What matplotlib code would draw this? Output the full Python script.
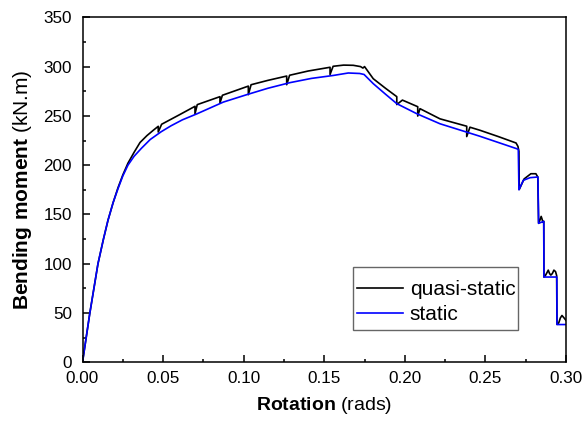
import matplotlib
matplotlib.use("Agg")
import matplotlib.pyplot as plt
from matplotlib.ticker import MultipleLocator
from matplotlib.patches import Rectangle

plt.rcParams['font.family'] = ['Liberation Sans', 'DejaVu Sans']
plt.rcParams['mathtext.fontset'] = 'custom'
plt.rcParams['mathtext.rm'] = 'Liberation Sans'
plt.rcParams['mathtext.bf'] = 'Liberation Sans:bold'

# static (blue)
rot_static = [0, 0.0045, 0.0096, 0.0130, 0.0158, 0.0190, 0.0220, 0.0250, 0.0282,
              0.0320, 0.0365, 0.0420, 0.0489, 0.0550, 0.0620,
              0.0709, 0.0874, 0.1019, 0.1150, 0.1287, 0.1420, 0.1556, 0.1649,
              0.1720, 0.1747, 0.1804, 0.1880, 0.1950, 0.2074, 0.2218, 0.2384, 0.2466,
              0.2580, 0.2694, 0.2704, 0.2708, 0.2735, 0.2777, 0.2826, 0.2830,
              0.2862, 0.2863, 0.2943, 0.2944, 0.3000]
mom_static = [0, 49.4, 100, 125, 144, 162, 176, 189, 200,
              209, 217, 226, 234, 240, 246,
              252, 264, 271.5, 278, 283.7, 288, 291, 293.5,
              293, 292, 282.7, 272, 262.4, 252.2, 242, 233.5, 229.3,
              223, 216.7, 216, 175, 184.6, 187.3, 188, 141,
              143, 86.5, 86.5, 38.3, 38.3]

# quasi-static (black)
rot_quasi = [0, 0.0045, 0.0096, 0.0130, 0.0158, 0.0190, 0.0220, 0.0250, 0.0282,
             0.0320, 0.0357, 0.0400, 0.0440,
             0.0470, 0.0470, 0.0491, 0.0600, 0.0698, 0.0698, 0.0712,
             0.0853, 0.0853, 0.0868, 0.1029, 0.1029, 0.1046, 0.1150,
             0.1267, 0.1267, 0.1285, 0.1400, 0.1536, 0.1536, 0.1555,
             0.1620, 0.1680, 0.1725, 0.1740, 0.1750, 0.1804, 0.1880,
             0.1950, 0.1950, 0.1985, 0.2080, 0.2080, 0.2094, 0.2218,
             0.2384, 0.2384, 0.2404, 0.2466, 0.2580, 0.2690, 0.2702,
             0.2708, 0.2710, 0.2740, 0.2782, 0.2813, 0.2825, 0.2830,
             0.2840, 0.2846, 0.2852, 0.2857, 0.2862, 0.2863, 0.2872,
             0.2882, 0.2890, 0.2898, 0.2906, 0.2915, 0.2925, 0.2935,
             0.2942, 0.2944, 0.2955, 0.2965, 0.2975, 0.2988, 0.3000]
mom_quasi = [0, 49.4, 100, 125, 144, 162, 177, 190, 202,
             213, 223, 230, 235.5,
             239.4, 233.6, 241.5, 251, 259.7, 252, 261.4,
             269.5, 263, 270.9, 280.2, 271.5, 281.6, 286,
             290.4, 281.6, 291.2, 295.5, 299.3, 292, 300.3,
             301.5, 301.3, 300, 298.5, 300, 287.7, 278,
             269.5, 261.5, 266, 259.3, 249.8, 257.3, 247,
             239.5, 229, 238.5, 235.4, 229, 222.5, 219,
             214, 175.4, 186, 191.3, 191.3, 188, 141,
             145, 148, 145, 142, 143, 86.5, 88,
             91, 93.5, 90, 88.5, 90, 93.5, 92,
             88, 38.5, 40, 45, 47.5, 45, 42.5]

xticks = [0.00, 0.05, 0.10, 0.15, 0.20, 0.25, 0.30]
yticks = [0, 50, 100, 150, 200, 250, 300, 350]

fig = plt.figure(figsize=(5.85, 4.21), dpi=100)
ax = fig.add_axes([82.5/585, 1-362.3/421, (566-82.5)/585, (362.3-17.3)/421])

ax.plot(rot_quasi, mom_quasi, color='black', lw=1.2, label='quasi-static')
ax.plot(rot_static, mom_static, color='#0000ff', lw=1.2, label='static')

ax.set_xlim(0, 0.30)
ax.set_ylim(0, 350)
ax.set_xticks(xticks)
ax.set_xticklabels([f"{v:.2f}" for v in xticks])
ax.set_yticks(yticks)
ax.set_yticklabels([str(v) for v in yticks])
ax.xaxis.set_minor_locator(MultipleLocator(0.025))
ax.yaxis.set_minor_locator(MultipleLocator(25))
ax.tick_params(which='both', direction='in', width=1.1, labelsize=12.3)
ax.tick_params(which='major', length=5)
ax.tick_params(which='minor', length=2.5)
ax.tick_params(axis='x', pad=6.5)
ax.tick_params(axis='y', pad=7.5)
for s in ax.spines.values():
    s.set_linewidth(1.1)

fig.text(23/585, 1-190/421, r'$\mathbf{Bending\ moment}$ (kN.m)', rotation=90,
         ha='center', va='center', fontsize=15)
fig.text(324/585, 1-405/421, r'$\mathbf{Rotation}$ (rads)',
         ha='center', va='center', fontsize=14)

# legend box drawn separately
ax.add_patch(Rectangle((0.5595, 0.0936), 0.9007-0.5595, 0.2762-0.0936,
                       transform=ax.transAxes, fill=True, facecolor='white',
                       edgecolor='#666666', lw=1.0, zorder=4))
leg = ax.legend(loc='center', bbox_to_anchor=(0.731, 0.174), fontsize=15,
                frameon=False, handlelength=2.25, handletextpad=0.3,
                borderpad=0.2, labelspacing=0.3, borderaxespad=0)
leg.set_zorder(5)

fig.savefig('out.png', dpi=100)
